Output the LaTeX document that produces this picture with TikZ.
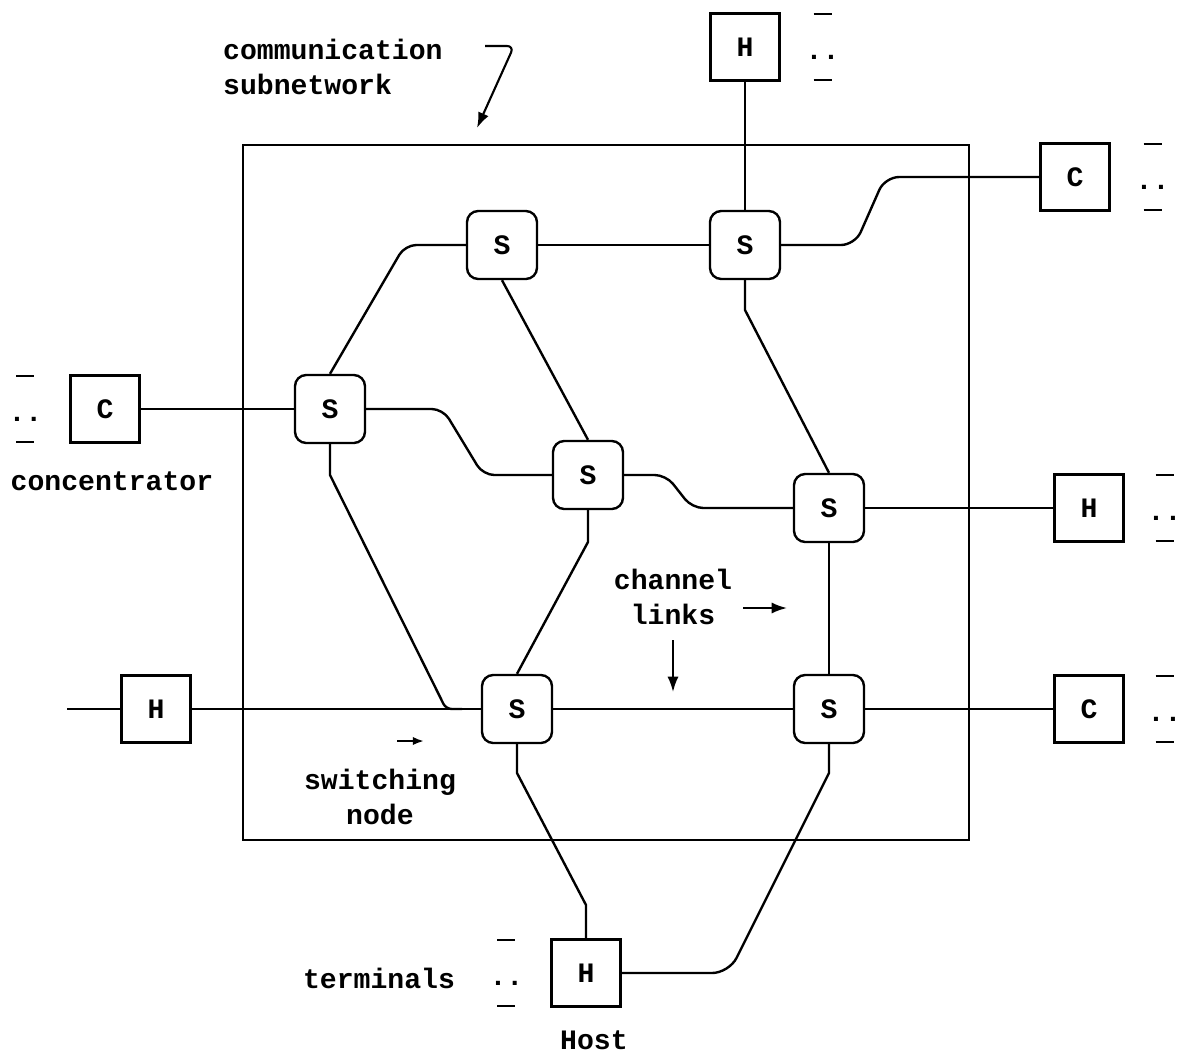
\documentclass[tikz,border=0pt]{standalone}
\usepackage{fontspec}
\setmonofont{Liberation Mono}
\usetikzlibrary{arrows.meta}

\begin{document}
\begin{tikzpicture}[x=0.025cm,y=-0.025cm,line width=1.7pt,
  font=\ttfamily\bfseries\fontsize{20}{25}\selectfont,
  swnode/.style={draw,rounded corners=8pt,minimum width=1.75cm,minimum height=1.7cm,inner sep=0pt},
  hcbox/.style={draw,minimum width=1.72cm,minimum height=1.68cm,inner sep=0pt},
  lbl/.style={align=center,inner sep=0pt},
  ptr/.style={-{Latex[length=11pt,width=8pt]},line width=1.5pt},
  terms/.pic={
    \draw[line width=1.5pt] (-9,-33) -- (9,-33) (-9,33) -- (9,33);
    \node[inner sep=0pt] at (0,10) {..};
  }]
  \useasboundingbox (0,0) rectangle (1180,1055);
  % subnetwork frame
  \draw (243,145) rectangle (969,840);
  % switching nodes
  \node[swnode] (s1) at (502,245) {S};
  \node[swnode] (s2) at (745,245) {S};
  \node[swnode] (s3) at (330,409) {S};
  \node[swnode] (s4) at (588,475) {S};
  \node[swnode] (s5) at (829,508) {S};
  \node[swnode] (s6) at (517,709) {S};
  \node[swnode] (s7) at (829,709) {S};
  % hosts and concentrators
  \node[hcbox] (ht) at (745,47) {H};
  \node[hcbox] (cr1) at (1075,177) {C};
  \node[hcbox] (cl) at (105,409) {C};
  \node[hcbox] (hr) at (1089,508) {H};
  \node[hcbox] (hl) at (156,709) {H};
  \node[hcbox] (cr2) at (1089,709) {C};
  \node[hcbox] (hb) at (586,973) {H};
  \path (ht.east) ++(42,0) pic {terms};
  \path (cr1.east) ++(42,0) pic {terms};
  \path (hr.east) ++(40,0) pic {terms};
  \path (cr2.east) ++(40,0) pic {terms};
  \path (cl.west) ++(-44,0) pic {terms};
  \path (hb.west) ++(-44,0) pic {terms};
  % channel links
  \coordinate (hlend) at (67,709);
  \draw (ht) -- (s2);
  \draw (s1) -- (s2);
  \draw[rounded corners=10pt] (s2.east) -- (855,245) -- (885,177) -- (cr1.west);
  \draw[rounded corners=8pt] (s1.west) -- (405,245) -- (s3.north);
  \draw (s1.south) -- (s4.north);
  \draw (cl) -- (s3);
  \draw[rounded corners=8pt] (s3.east) -- (443,409) -- (483,475) -- (s4.west);
  \draw[rounded corners=8pt] (s4.east) -- (666,475) -- (692,508) -- (s5.west);
  \draw (s5) -- (hr);
  \draw (s2.south) -- (745,310) -- (s5.north);
  \draw (s3.south) -- (330,475) [rounded corners=4pt] -- (446,709) -- (462,709);
  \draw (hlend) -- (hl);
  \draw (hl) -- (s6);
  \draw (s4.south) -- (588,542) -- (s6.north);
  \draw (s6) -- (s7);
  \draw (s5) -- (s7);
  \draw (s7) -- (cr2);
  \draw (s6.south) -- (517,773) -- (586,905) -- (hb.north);
  \draw (s7.south) -- (829,773) [rounded corners=12pt] -- (729,973) -- (hb.east);
  % labels
  \node[lbl,align=left,anchor=west] (comm) at (222,67) {communication\\subnetwork};
  \coordinate (commtail) at (485,46);
  \coordinate (commtip) at (477,128);
  \draw[ptr,rounded corners=5pt] (commtail) -- (514,46) -- (commtip);
  \node[lbl] (conc) at (112,481) {concentrator};
  \node[lbl] (chan) at (673,597) {channel\\links};
  \coordinate (chanr) at (787,608);
  \coordinate (chand) at (673,692);
  \draw[ptr] (743,608) -- (chanr);
  \draw[ptr] (673,640) -- (chand);
  \node[lbl] (swn) at (380,797) {switching\\node};
  \coordinate (swntip) at (424,741);
  \draw[ptr,-{Latex[length=8pt,width=6pt]}] (397,741) -- (swntip);
  \node[lbl] (term) at (379,978) {terminals};
  \node[lbl] (host) at (594,1040) {Host};
\end{tikzpicture}
\end{document}
